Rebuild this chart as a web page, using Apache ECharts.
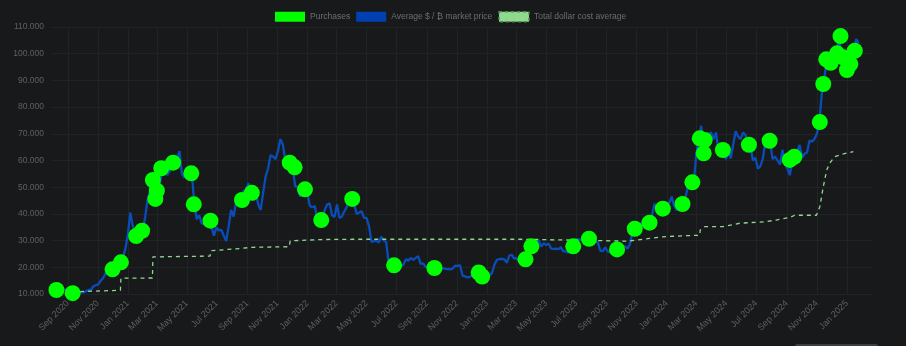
<!DOCTYPE html>
<html>
<head>
<meta charset="utf-8">
<title>Bitcoin purchases vs. market price</title>
<script src="https://cdn.jsdelivr.net/npm/echarts@6/dist/echarts.min.js"></script>
<style>
  html, body { margin: 0; padding: 0; background: #18191b; }
  #chart { width: 906px; height: 346px; }
</style>
</head>
<body>
<div id="chart"></div>
<script>
// Market price samples, one every 5 days starting at priceStart (USD per BTC)
const priceStart = [2020, 8, 9];
const priceStepDays = 5;
const marketPrice = [
  11500, 11800, 11900, 11700, 11600, 10400, 10200, 10300, 10900, 10500,
  10700, 10600, 11000, 11500, 11500, 12900, 13300, 13600, 15000, 16000,
  17800, 18600, 17200, 19200, 19000, 18900, 22000, 23800, 26800, 32000,
  40500, 35500, 33000, 31500, 32600, 33800, 38500, 45000, 48500, 53500,
  46500, 49000, 51000, 57000, 58500, 54500, 56000, 59200, 58000, 60500,
  63500, 55000, 53500, 57500, 56500, 55500, 44000, 38000, 39500, 36500,
  36000, 36800, 39500, 35200, 31800, 35000, 33800, 34000, 31800, 29800,
  35500, 41500, 39000, 44500, 46800, 45500, 48500, 48800, 51500, 47500,
  45000, 48000, 43500, 41500, 48000, 54000, 57000, 62000, 61500, 60500,
  63500, 68000, 66000, 60000, 57000, 58500, 57000, 50500, 50000, 46500,
  48800, 49500, 47500, 43000, 42500, 43000, 37500, 37000, 38000, 41500,
  43500, 44000, 39500, 38800, 43500, 38500, 39000, 41000, 42500, 46500,
  45800, 43500, 40000, 40500, 41000, 38500, 38500, 35500, 29500, 29800,
  30000, 29300, 31500, 30000, 29500, 21500, 18000, 21000, 19500, 20000,
  20500, 21000, 23000, 22500, 23500, 22800, 23500, 24200, 21300, 21500,
  20200, 20000, 19400, 20300, 19700, 19000, 19400, 19700, 19400, 19300,
  19200, 19500, 20600, 20500, 20800, 16900, 16600, 16200, 16400, 17100,
  17200, 18000, 16800, 16900, 16600, 16600, 17000, 17900, 21000, 22800,
  23100, 23200, 23000, 21700, 24300, 24700, 23300, 23400, 22300, 22200,
  22500, 24500, 27000, 28000, 28200, 30200, 30000, 27800, 29000, 28300,
  28900, 27000, 26900, 27000, 26800, 27500, 26000, 26000, 25500, 27000,
  28000, 30400, 30500, 30300, 30500, 30600, 30700, 29300, 29200, 29700,
  29300, 26200, 26100, 27500, 25900, 25800, 26200, 26700, 26600, 27000,
  27500, 27900, 27000, 28500, 33000, 34400, 34800, 35300, 37000, 36500,
  37300, 37000, 39500, 43800, 41300, 41500, 43800, 42200, 44200, 43900,
  46500, 43000, 41500, 41800, 43000, 43600, 47800, 51800, 51900, 51700,
  62500, 67500, 73000, 64500, 66000, 70000, 70500, 68000, 70500, 63500,
  65000, 64000, 60500, 63800, 60800, 66000, 71000, 69000, 68000, 70500,
  69500, 66500, 65500, 60000, 61000, 57000, 57800, 60500, 66500, 65500,
  67000, 60500, 61500, 60000, 58500, 64000, 59000, 57000, 54500, 60000,
  61000, 63500, 65800, 61000, 62500, 63000, 67500, 67000, 68000, 70000,
  74500, 85000, 90500, 98000, 94000, 97000, 99500, 100500, 106000, 98000,
  96000, 93500, 98000, 95000, 100500, 105500, 104000
];

// Individual purchases: date and price paid
const purchaseDates = [
  '2020-08-09', '2020-09-11', '2020-12-01', '2020-12-18', '2021-01-18',
  '2021-01-30', '2021-02-21', '2021-02-26', '2021-03-01', '2021-03-10',
  '2021-04-03', '2021-05-10', '2021-05-15', '2021-06-18', '2021-08-21',
  '2021-09-10', '2021-11-26', '2021-12-06', '2021-12-27', '2022-01-29',
  '2022-04-02', '2022-06-26', '2022-09-16', '2022-12-15', '2022-12-22',
  '2023-03-20', '2023-04-01', '2023-06-25', '2023-07-27', '2023-09-22',
  '2023-10-28', '2023-11-27', '2023-12-24', '2024-02-02', '2024-02-22',
  '2024-03-08', '2024-03-18', '2024-03-16', '2024-04-24', '2024-06-16',
  '2024-07-28', '2024-09-07', '2024-09-16', '2024-11-07', '2024-11-14',
  '2024-11-20', '2024-11-29', '2024-12-12', '2024-12-19', '2024-12-24',
  '2025-01-01', '2025-01-08', '2025-01-17'
];
const purchasePrices = [
  11500, 10300, 19250, 21870, 31720,
  33700, 52700, 45600, 48700, 57100,
  59200, 55200, 43600, 37450, 45200,
  47900, 59200, 57450, 49200, 37700,
  45600, 20750, 19740, 18050, 16550,
  23000, 27860, 27860, 30700, 26700,
  34450, 36700, 41950, 43700, 51830,
  68300, 67670, 62700, 63930, 65900,
  67400, 60200, 61400, 74400, 88650,
  97900, 96600, 100140, 106600, 98640,
  93900, 96100, 101100
];

// Running dollar cost average
const dcaDates = [
  '2020-09-26', '2020-12-17', '2020-12-18', '2021-02-20', '2021-02-21',
  '2021-06-17', '2021-06-19', '2021-08-21', '2021-09-10', '2021-11-25',
  '2021-11-27', '2022-01-29', '2022-04-02', '2023-03-20', '2023-10-10',
  '2023-10-28', '2023-11-27', '2023-12-24', '2024-02-02', '2024-03-08',
  '2024-03-09', '2024-03-18', '2024-04-24', '2024-05-28', '2024-07-21',
  '2024-08-10', '2024-09-07', '2024-09-17', '2024-10-31', '2024-11-07',
  '2024-11-14', '2024-11-21', '2024-11-27', '2024-12-07', '2024-12-21',
  '2025-01-14'
];
const dcaValues = [
  10900, 11400, 15900, 16000, 23900,
  24200, 26200, 27100, 27500, 27700,
  29900, 30400, 30500, 30500, 29800,
  30100, 30800, 31400, 31800, 32000,
  34000, 35200, 35200, 36500, 37100,
  37700, 38700, 39500, 39500, 42700,
  50200, 56400, 59000, 61400, 62300,
  63300
];

// Axis tick positions (first day of every second month)
const tickMonths = [
  '2020-09-01', '2020-11-01', '2021-01-01', '2021-03-01', '2021-05-01',
  '2021-07-01', '2021-09-01', '2021-11-01', '2022-01-01', '2022-03-01',
  '2022-05-01', '2022-07-01', '2022-09-01', '2022-11-01', '2023-01-01',
  '2023-03-01', '2023-05-01', '2023-07-01', '2023-09-01', '2023-11-01',
  '2024-01-01', '2024-03-01', '2024-05-01', '2024-07-01', '2024-09-01',
  '2024-11-01', '2025-01-01'
];
const monthNames = ['Jan', 'Feb', 'Mar', 'Apr', 'May', 'Jun', 'Jul', 'Aug', 'Sep', 'Oct', 'Nov', 'Dec'];
const axisStart = '2020-07-31';
const axisEnd = '2025-02-23';

function parseDay(s) {
  const p = s.split('-').map(Number);
  return new Date(p[0], p[1] - 1, p[2]).getTime();
}

const priceData = marketPrice.map((v, i) =>
  [new Date(priceStart[0], priceStart[1] - 1, priceStart[2] + i * priceStepDays).getTime(), v]);
const purchaseData = purchaseDates.map((d, i) => [parseDay(d), purchasePrices[i]]);
const dcaData = dcaDates.map((d, i) => [parseDay(d), dcaValues[i]]);
const tickValues = tickMonths.map(parseDay);

const textColor = '#5d6064';
const gridColor = '#212326';
const font = 'Liberation Sans';
const fontSize = 8.5;

const chart = echarts.init(document.getElementById('chart'), null, { renderer: 'canvas' });
chart.setOption({
  backgroundColor: '#18191b',
  animation: false,
  textStyle: { fontFamily: font },
  legend: {
    top: 6,
    left: 270,
    itemWidth: 30,
    itemHeight: 10,
    itemGap: 6,
    textStyle: { color: '#6b6e72', fontSize: fontSize, fontFamily: font },
    data: [
      { name: 'Purchases', icon: 'rect', itemStyle: { color: '#00ff00' } },
      { name: 'Average $ / \u20BF market price', icon: 'rect', itemStyle: { color: '#0040b0' } },
      {
        name: 'Total dollar cost average', icon: 'rect',
        itemStyle: { color: '#8fd98f', borderColor: '#4f8f4f', borderWidth: 1.5, borderType: [3, 3] }
      }
    ]
  },
  grid: { left: 52, right: 33, top: 27, bottom: 52 },
  xAxis: {
    type: 'value',
    min: parseDay(axisStart),
    max: parseDay(axisEnd),
    axisLine: { show: false },
    axisTick: { show: false, customValues: tickValues },
    splitLine: { show: true, lineStyle: { color: gridColor, width: 1 } },
    axisLabel: {
      customValues: tickValues,
      rotate: 45,
      margin: 8,
      color: textColor,
      fontSize: 9,
      fontFamily: font,
      formatter: function (value) {
        const d = new Date(value);
        return monthNames[d.getMonth()] + ' ' + d.getFullYear();
      }
    }
  },
  yAxis: {
    type: 'value',
    min: 10000,
    max: 110000,
    interval: 10000,
    axisLine: { show: false },
    axisTick: { show: false },
    splitLine: { show: true, lineStyle: { color: gridColor, width: 1 } },
    axisLabel: {
      color: textColor,
      fontSize: fontSize,
      fontFamily: font,
      margin: 8,
      formatter: function (v) {
        return String(v).replace(/\B(?=(\d{3})+(?!\d))/g, '.');
      }
    }
  },
  series: [
    {
      name: 'Average $ / \u20BF market price',
      type: 'line',
      data: priceData,
      showSymbol: false,
      symbol: 'none',
      lineStyle: { color: '#0a4cb8', width: 2.3 },
      itemStyle: { color: '#0040b0' },
      z: 2
    },
    {
      name: 'Total dollar cost average',
      type: 'line',
      data: dcaData,
      showSymbol: false,
      symbol: 'none',
      lineStyle: { color: '#8fd98f', width: 1.3, type: [4, 4] },
      itemStyle: { color: '#8fd98f' },
      z: 3
    },
    {
      name: 'Purchases',
      type: 'scatter',
      data: purchaseData,
      symbolSize: 16,
      itemStyle: { color: '#00ff00', opacity: 1 },
      z: 4
    }
  ],
  graphic: [
    {
      type: 'rect',
      left: 795,
      top: 344,
      shape: { width: 83, height: 4, r: [2, 2, 0, 0] },
      style: { fill: '#3a3e42' },
      silent: true
    }
  ]
});
</script>
</body>
</html>
